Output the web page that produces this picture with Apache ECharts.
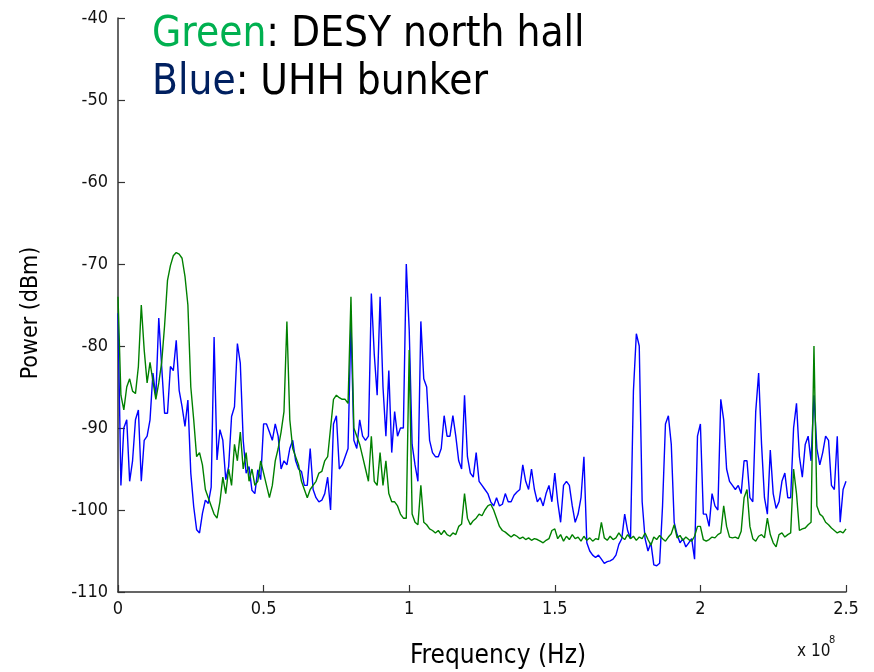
<!DOCTYPE html>
<html><head><meta charset="utf-8">
<script src="https://cdn.jsdelivr.net/npm/echarts@6/dist/echarts.min.js"></script>
<style>html,body{margin:0;padding:0;background:#fff}#c{width:874px;height:672px}</style>
</head><body><div id="c"></div>
<script>
// sample spacing of the spectra (Hz), both series start at 0 Hz
const freqStepHz = 1e6;
// UHH bunker (blue), dBm, 0 .. 2.5e8 Hz
const bluePower = [
-76,-97,-90,-89,-96.5,-94,-89,-87.8,-96.5,-91.5,
-91,-89,-83.3,-86.2,-76.6,-82.5,-88.2,-88.2,-82.5,-83,
-79.3,-85.4,-87.4,-89.8,-86.6,-95.5,-99.6,-102.4,-102.8,-100.4,
-98.8,-99.2,-97.2,-78.9,-93.9,-90.2,-91.5,-96.3,-94.7,-88.6,
-87.4,-79.7,-82.1,-91.5,-95.5,-94.7,-97.6,-98,-95.1,-96.3,
-89.5,
-89.5,-90.5,-91.5,-89.5,-91,-95,-94,-94.5,-92.5,-91.5,
-94,-95,-95.3,-97,-97,-92.5,-97.5,-98.5,-99,-98.8,
-98,-96,-100,-89.5,-88.5,-95,-94.5,-93.5,-92.5,-77,
-91.5,-92.5,-89,-91,-91.5,-91,-73.6,-81,-86,-74,
-85,-91,-83,-93,-88,-91,-90,-90,-70,-78,
-92,-94.5,-96.5,-77,-84,-85,-91.5,-93,-93.5,-93.5,
-92.5,-88.5,-91,-91,-88.5,-91,-94,-95,-86,-93.5,
-95.5,-96,-93,-96.5,-97,-97.5,-98,-99,-99.5,-98.5,
-99.5,-99.3,-98,-99,-99,-98.2,-97.8,-97.5,-94.5,-96.5,
-97.5,-95,-97.5,-99,-98.5,-99.5,-98,-97,-99,-95.5,
-99,-101.5,-97,-96.5,-97,-99.5,-101.5,-100.5,-98.5,-93.5,
-104,-105,-105.5,-105.8,-105.5,-106,-106.5,-106.3,-106.2,-106,
-105.5,-104.2,-103.5,-100.5,-102.5,-103.5,-85.5,-78.5,-80,-99,
-103.5,-105,-104,-106.7,-106.8,-106.5,-99.5,-89.5,-88.5,-92,
-101.5,-103,-104,-103.5,-104.5,-104,-103.5,-106,-91,-89.5,
-100.5,-100.5,-102,-98,-99.5,-100,-86.5,-89,-95,-96.5,
-97,-97.5,-97,-98,-94,-94,-98.5,-99,-88,-83.3,
-92,-98.5,-100.5,-92.7,-98,-99.8,-99,-96.5,-95.5,-98.5,
-98.5,-90,-87,-93.5,-96,-92,-91,-94,-86,-92.5,
-94.5,-93,-91,-91.5,-97,-97.5,-91,-101.5,-97.5,-96.5
];
// DESY north hall (green), dBm, 0 .. 2.5e8 Hz
const greenPower = [
-74,-86,-87.8,-85,-84,-85.5,-85.8,-82.5,-75,-80.5,-84.5,
-82,-84.3,-86.5,-84.5,-82,-77.5,-72,-70.2,-69,-68.6,
-68.8,-69.3,-71.5,-75,-85,-89,-93.5,-93,-94.5,-97.5,
-98.5,-99.5,-100.5,-101,-99,-96,-98,-95,-97,-92,
-94,-90.5,-95,-93,-96.5,-95,-97,-96.5,-94,-95.5,
-97,-98.5,-97,-94,-92.5,-90.5,-88,-77,-89,-92.5,
-93.5,-94.5,-96.5,-97.5,-98.5,-97.5,-97,-96.5,-95.5,-95.3,
-94,-93.5,-90,-86.5,-86,-86.3,-86.5,-86.5,-87,-74,
-90,-91,-92,-93.5,-95,-96.5,-91,-96.5,-97,-93,
-97,-94,-98,-99,-99,-99.5,-100.5,-101,-101,-80.5,
-100.5,-101.5,-101.8,-97,-101.5,-101.8,-102.3,-102.5,-102.8,-102.5,
-103,-102.5,-103,-103.2,-102.8,-103,-102,-101.7,-98,-101,
-101.8,-101.3,-101,-100.5,-100.7,-100,-99.5,-99.3,-100,-101,
-102,-102.5,-102.7,-103,-103.3,-103,-103.2,-103.5,-103.3,-103.6,
-103.4,-103.7,-103.5,-103.6,-103.8,-104,-103.7,-103.5,-102.5,-102.3,
-103.5,-103,-103.8,-103.2,-103.6,-103,-103.5,-103.3,-103.8,-103.2,
-103.7,-103.4,-103.8,-103.5,-103.6,-101.5,-103.4,-103.7,-103.2,-103.6,
-103.4,-102.8,-103.3,-103.6,-103,-103.5,-103.2,-103.7,-103.3,-103.5,
-102.8,-103.6,-104.3,-103.3,-103.6,-103.1,-103.5,-103.8,-103.3,-102.9,
-101.8,-103.4,-103.1,-103.7,-103.3,-103.6,-103.8,-103.2,-102,-102,
-103.6,-103.8,-103.6,-103.3,-103.4,-103,-102.8,-99.5,-102,-103.3,
-103.4,-103.3,-103.5,-102.6,-98.5,-97.5,-102,-103.5,-103.8,-103.2,
-103,-103.4,-101,-103,-104,-104.5,-103,-102.8,-103.3,-103,
-102.8,-95,-98,-102.5,-102.3,-102.2,-101.8,-101.5,-80,-99.5,
-100.5,-100.8,-101.5,-101.8,-102.2,-102.5,-102.8,-102.6,-102.8,-102.3
];
const xTickValues = [0, 0.5e8, 1e8, 1.5e8, 2e8, 2.5e8];
const yTickLabels = ['-110','-100','-90','-80','-70','-60','-50','-40'];
const titleLines = [['Green', ': DESY north hall'], ['Blue', ': UHH bunker']];

const toPairs = arr => arr.map((v, i) => [i * freqStepHz, v]);
const tickFont = "'Liberation Sans Narrow','DejaVu Sans Condensed',sans-serif";
const labelFont = "'DejaVu Sans Condensed','DejaVu Sans',sans-serif";

const chart = echarts.init(document.getElementById('c'), null, {renderer: 'canvas'});
chart.setOption({
  animation: false,
  backgroundColor: '#fff',
  grid: {left: 118, right: 28, top: 18, bottom: 80, containLabel: false},
  xAxis: {
    type: 'value', min: 0, max: 2.5e8, interval: 0.5e8,
    axisLine: {show: true, lineStyle: {color: '#333', width: 1.5}},
    axisTick: {show: true, inside: true, length: 7, lineStyle: {color: '#333', width: 1.2}},
    splitLine: {show: false},
    axisLabel: {color: '#111', fontSize: 18, fontFamily: tickFont, margin: 8,
      formatter: v => String(v / 1e8)}
  },
  yAxis: {
    type: 'value', min: -110, max: -40, interval: 10,
    axisLine: {show: true, lineStyle: {color: '#333', width: 1.5}},
    axisTick: {show: true, inside: true, length: 7, lineStyle: {color: '#333', width: 1.2}},
    splitLine: {show: false},
    axisLabel: {color: '#111', fontSize: 18, fontFamily: tickFont, margin: 10,
      formatter: v => yTickLabels[Math.round((v + 110) / 10)]}
  },
  series: [
    {type: 'line', name: 'UHH bunker', data: toPairs(bluePower), showSymbol: false,
      lineStyle: {color: '#0000ff', width: 1.4}, itemStyle: {color: '#0000ff'}},
    {type: 'line', name: 'DESY north hall', data: toPairs(greenPower), showSymbol: false,
      lineStyle: {color: '#008000', width: 1.4}, itemStyle: {color: '#008000'}}
  ],
  graphic: [
    {type: 'text', left: 152, top: 14, style: {
      text: '{g|' + titleLines[0][0] + '}{k|' + titleLines[0][1] + '}\n{b|' + titleLines[1][0] + '}{k|' + titleLines[1][1] + '}',
      rich: {
        g: {fill: '#00b050', fontSize: 42, fontFamily: labelFont, lineHeight: 48},
        b: {fill: '#002060', fontSize: 42, fontFamily: labelFont, lineHeight: 48},
        k: {fill: '#000', fontSize: 42, fontFamily: labelFont, lineHeight: 48}
      }}},
    {type: 'text', x: 31, y: 313, rotation: Math.PI / 2, style: {
      text: 'Power (dBm)', fill: '#000', fontSize: 23, fontFamily: labelFont,
      align: 'center', verticalAlign: 'middle'}},
    {type: 'text', x: 498, y: 656, style: {
      text: 'Frequency (Hz)', fill: '#000', fontSize: 26, fontFamily: labelFont,
      align: 'center', verticalAlign: 'middle'}},
    {type: 'text', x: 797, y: 652, style: {
      text: 'x 10', fill: '#111', fontSize: 17, fontFamily: tickFont,
      align: 'left', verticalAlign: 'middle'}},
    {type: 'text', x: 829, y: 640, style: {
      text: '8', fill: '#111', fontSize: 11, fontFamily: tickFont,
      align: 'left', verticalAlign: 'middle'}}
  ]
});
</script></body></html>
